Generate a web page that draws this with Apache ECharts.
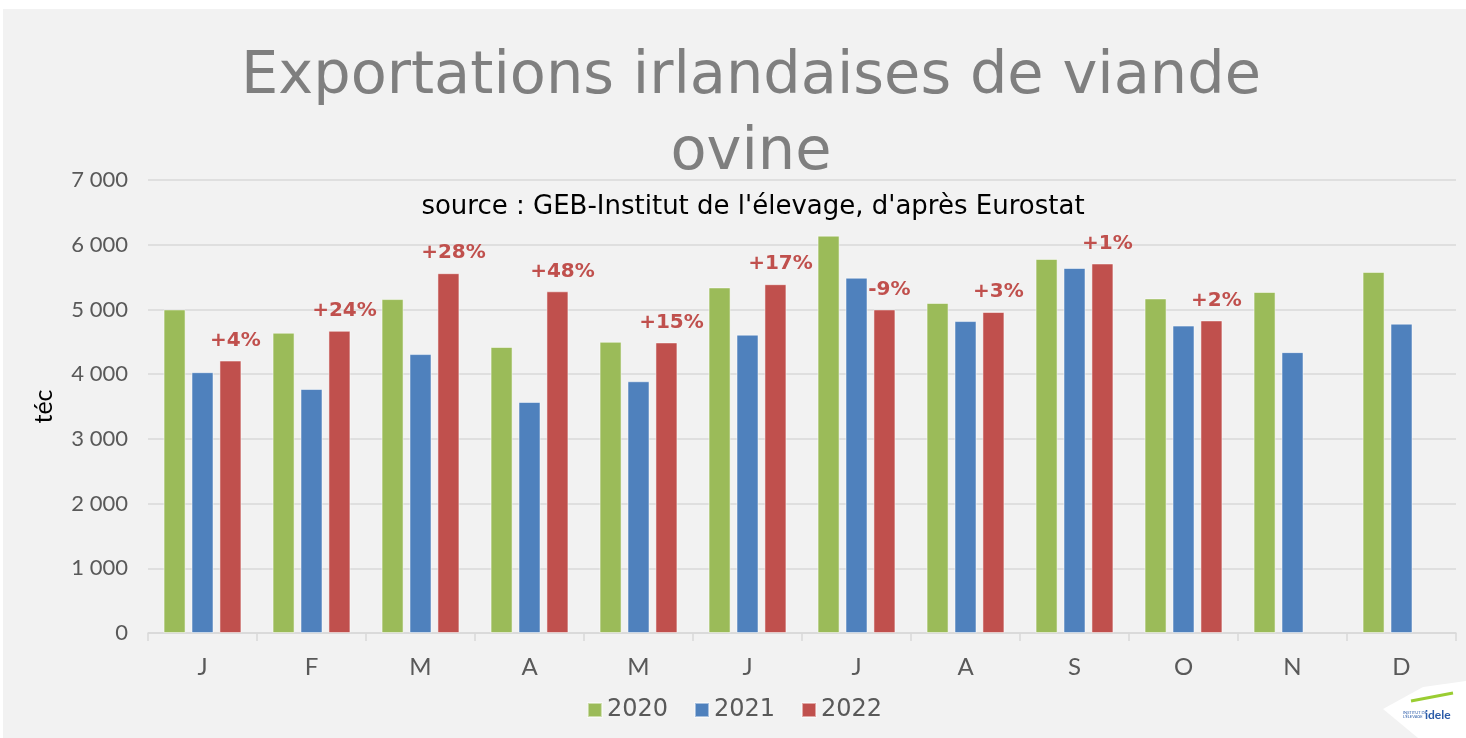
<!DOCTYPE html>
<html>
<head>
<meta charset="utf-8">
<title>Exportations irlandaises de viande ovine</title>
<script src="https://cdn.jsdelivr.net/npm/echarts@6/dist/echarts.min.js"></script>
<style>
  html, body { margin: 0; padding: 0; background: #ffffff; }
  #chart { position: absolute; left: 3px; top: 9px; width: 1463px; height: 729px; background: #f2f2f2; }
</style>
</head>
<body>
<div id="chart"></div>
<script>
// mois
var months = ['J', 'F', 'M', 'A', 'M', 'J', 'J', 'A', 'S', 'O', 'N', 'D'];
var years = ['2020', '2021', '2022'];
// exportations en téc
var data2020 = [5000, 4640, 5160, 4420, 4500, 5340, 6140, 5100, 5780, 5170, 5270, 5580];
var data2021 = [4030, 3770, 4310, 3570, 3890, 4610, 5490, 4820, 5640, 4750, 4340, 4780];
var data2022 = [4210, 4670, 5560, 5280, 4490, 5390, 5000, 4960, 5710, 4830, null, null];
// évolution 2022 / 2021
var evol = ['+4%', '+24%', '+28%', '+48%', '+15%', '+17%', '-9%', '+3%', '+1%', '+2%', '', ''];
var yTicks = [0, 1000, 2000, 3000, 4000, 5000, 6000, 7000];

var colors = ['#9bbb59', '#4f81bd', '#c0504d'];
var font = 'Lato, "Noto Sans", sans-serif';
var wide = '"DejaVu Sans", sans-serif';

var myChart = echarts.init(document.getElementById('chart'));

function fmt(v) {
  // 7000 -> "7 000"
  var s = String(v);
  if (s.length > 3) s = s.slice(0, s.length - 3) + ' ' + s.slice(-3);
  return s;
}

var option = {
  backgroundColor: '#f2f2f2',
  color: colors,
  animation: false,
  textStyle: { fontFamily: font },
  title: [
    {
      text: 'Exportations irlandaises de viande\novine',
      left: 743,
      textAlign: 'center',
      top: 26,
      textStyle: { color: '#7f7f7f', fontSize: 59, fontWeight: 'normal', lineHeight: 76, fontFamily: wide }
    },
    {
      text: "source : GEB-Institut de l'élevage, d'après Eurostat",
      left: 745,
      textAlign: 'center',
      top: 180,
      textStyle: { color: '#000000', fontSize: 26, fontWeight: 'normal', fontFamily: wide }
    }
  ],
  legend: {
    data: years,
    bottom: 11,
    left: 'center',
    itemWidth: 14,
    itemHeight: 14,
    itemGap: 26,
    icon: 'rect',
    textStyle: { color: '#595959', fontSize: 24, fontFamily: wide }
  },
  grid: { left: 145, right: 10, top: 171, bottom: 105 },
  xAxis: {
    type: 'category',
    data: months,
    axisLine: { show: true, lineStyle: { color: '#d9d9d9', width: 1.5 } },
    axisTick: { show: true, length: 8, lineStyle: { color: '#d9d9d9', width: 1.5 } },
    axisLabel: { color: '#595959', fontSize: 24, margin: 22, fontFamily: font }
  },
  yAxis: {
    type: 'value',
    min: 0,
    max: 7000,
    interval: 1000,
    name: 'téc',
    nameLocation: 'middle',
    nameGap: 92,
    nameRotate: 90,
    nameTextStyle: { color: '#000000', fontSize: 25, fontFamily: font },
    axisLine: { show: false },
    axisTick: { show: false },
    splitLine: { lineStyle: { color: '#d9d9d9', width: 1.5 } },
    axisLabel: {
      color: '#595959', fontSize: 22, margin: 20, fontFamily: font,
      formatter: function (v) { return yTicks.indexOf(v) >= 0 ? fmt(v) : ''; }
    }
  },
  series: [
    {
      name: '2020', type: 'bar', data: data2020,
      barWidth: 22, barGap: '27%',
      itemStyle: { borderColor: 'rgba(255,255,255,0.5)', borderWidth: 1 }
    },
    {
      name: '2021', type: 'bar', data: data2021,
      barWidth: 22, barGap: '27%',
      itemStyle: { borderColor: 'rgba(255,255,255,0.5)', borderWidth: 1 }
    },
    {
      name: '2022', type: 'bar', data: data2022,
      barWidth: 22, barGap: '27%',
      itemStyle: { borderColor: 'rgba(255,255,255,0.5)', borderWidth: 1 },
      label: {
        show: true,
        position: 'top',
        distance: 10,
        offset: [5, 0],
        color: '#c0504d',
        fontSize: 20,
        fontWeight: 'bold',
        fontFamily: wide,
        formatter: function (p) { return evol[p.dataIndex]; }
      }
    }
  ],
  graphic: [
    // logo idele (coin bas droit)
    {
      type: 'polygon',
      shape: { points: [[1380, 700], [1420, 678], [1463, 672], [1463, 729], [1415, 729]] },
      style: { fill: '#ffffff' }
    },
    {
      type: 'text', left: 1422, top: 700,
      style: { text: 'idele', fill: '#2a5ba8', fontSize: 12, fontWeight: 'bold', fontFamily: font }
    },
    {
      type: 'text', left: 1400, top: 702,
      style: { text: "INSTITUT DE\nL'ÉLEVAGE", fill: '#2a5ba8', fontSize: 4, fontFamily: font }
    },
    {
      type: 'line',
      shape: { x1: 1408, y1: 692, x2: 1450, y2: 684 },
      style: { stroke: '#9acd32', lineWidth: 3 }
    }
  ]
};

myChart.setOption(option);
</script>
</body>
</html>
